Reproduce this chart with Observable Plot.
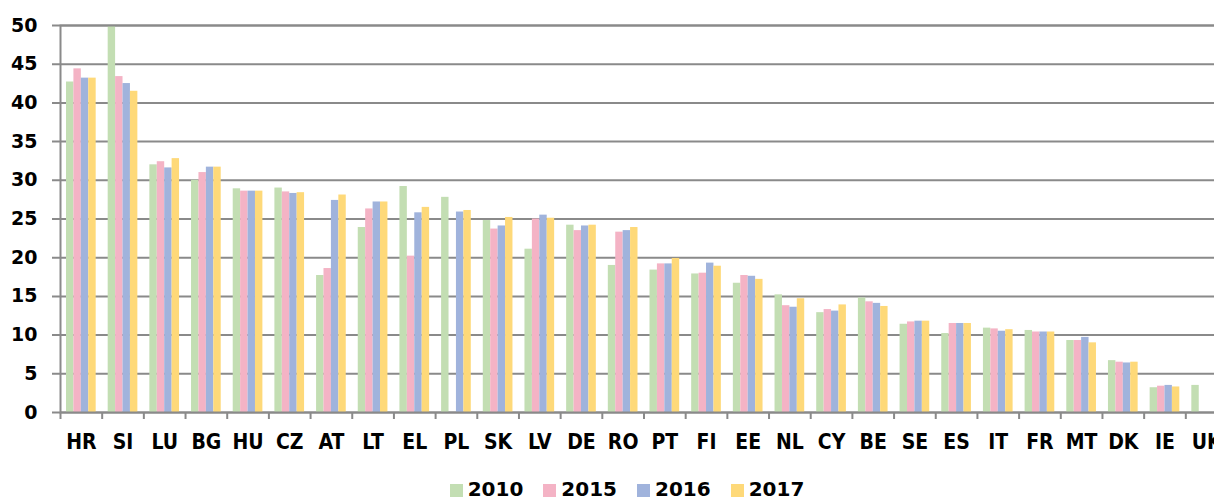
<!DOCTYPE html>
<html>
<head>
<meta charset="utf-8">
<script src="https://cdn.jsdelivr.net/npm/d3@7"></script>
<script src="https://cdn.jsdelivr.net/npm/@observablehq/plot@0.6"></script>
<style>
  html, body { margin: 0; padding: 0; background: #fff; overflow: hidden; }
  #chart svg { display: block; overflow: hidden; max-width: none; }
  #legend { display: flex; justify-content: center; align-items: center; height: 35px; padding-top: 13px;
    font-family: "DejaVu Sans", Verdana, sans-serif; font-weight: bold; font-size: 20px; color: #000; padding-left: 40px; box-sizing: border-box; }
  .item { display: flex; align-items: center; margin: 0 10px; line-height: 1; }
  .sw { width: 13px; height: 13px; margin-right: 5px; margin-top: 3px; }
</style>
</head>
<body>
<div id="chart"></div>
<div id="legend"></div>
<script>
const countries = ["HR","SI","LU","BG","HU","CZ","AT","LT","EL","PL","SK","LV","DE","RO","PT","FI","EE","NL","CY","BE","SE","ES","IT","FR","MT","DK","IE","UK"];
const years = ["2010","2015","2016","2017"];
const v2010 = [42.7,49.9,32.0,30.0,28.9,29.0,17.7,23.9,29.2,27.8,24.8,21.1,24.2,19.0,18.4,17.9,16.7,15.2,12.9,14.8,11.4,10.2,10.9,10.6,9.3,6.7,3.2,3.5];
const v2015 = [44.4,43.4,32.4,31.0,28.6,28.5,18.6,26.3,20.2,null,23.7,25.0,23.5,23.3,19.2,18.0,17.7,13.8,13.3,14.3,11.7,11.5,10.8,10.4,9.3,6.5,3.4,null];
const v2016 = [43.2,42.5,31.6,31.7,28.6,28.3,27.4,27.2,25.8,25.9,24.1,25.5,24.1,23.5,19.2,19.3,17.6,13.6,13.1,14.1,11.8,11.5,10.5,10.4,9.7,6.4,3.5,null];
const v2017 = [43.2,41.5,32.8,31.7,28.6,28.4,28.1,27.2,26.5,26.1,25.2,25.1,24.2,23.9,19.9,18.9,17.2,14.7,13.9,13.7,11.8,11.5,10.7,10.4,9.0,6.5,3.3,null];
const series = [v2010, v2015, v2016, v2017];
const colors = ["#c3deb3","#f4b3c5","#a0b3dc","#fed979"];
const yTicks = [0,5,10,15,20,25,30,35,40,45,50];

const W = 1214, H = 465, mL = 60, mR = -13, mT = 25, mB = 53;
const step = (W - mL - mR) / countries.length;
const pad = 6, bw = (step - 2 * pad) / years.length;
const gray = "#8a8a8a";
const font = "DejaVu Sans, Verdana, sans-serif";

const barMarks = series.map((s, k) => Plot.barY(countries, {
  x: d => d,
  y: (d, i) => s[i],
  fill: colors[k],
  insetLeft: pad + bw * k,
  insetRight: step - pad - bw * (k + 1)
}));

const chart = Plot.plot({
  width: W, height: H,
  marginLeft: mL, marginRight: mR, marginTop: mT, marginBottom: mB,
  style: { fontFamily: font, background: "#fff", overflow: "hidden" },
  x: { domain: countries, padding: 0, round: false, align: 0 },
  y: { domain: [0, 50] },
  marks: [
    Plot.ruleY(yTicks, { stroke: gray, strokeWidth: 2, insetLeft: -8 }),
    ...barMarks,
    Plot.frame({ stroke: gray, strokeWidth: 2 }),
    Plot.axisX({ tickSize: 7, stroke: gray, strokeWidth: 2, tickFormat: () => "", dx: -step / 2, label: null }),
    Plot.axisX({ tickSize: 0, tickPadding: 22, fontSize: 21, fontWeight: "bold", fontFamily: "DejaVu Sans Condensed, DejaVu Sans, sans-serif", fill: "#000", label: null }),
    Plot.axisY({ ticks: yTicks, tickSize: 0, tickPadding: 23, fontSize: 19, fontWeight: "bold", fill: "#000", label: null })
  ]
});
document.getElementById("chart").appendChild(chart);

const legend = document.getElementById("legend");
years.forEach((y, k) => {
  const it = document.createElement("div");
  it.className = "item";
  const sw = document.createElement("div");
  sw.className = "sw";
  sw.style.background = colors[k];
  const t = document.createElement("span");
  t.textContent = y;
  it.appendChild(sw); it.appendChild(t);
  legend.appendChild(it);
});
</script>
</body>
</html>
